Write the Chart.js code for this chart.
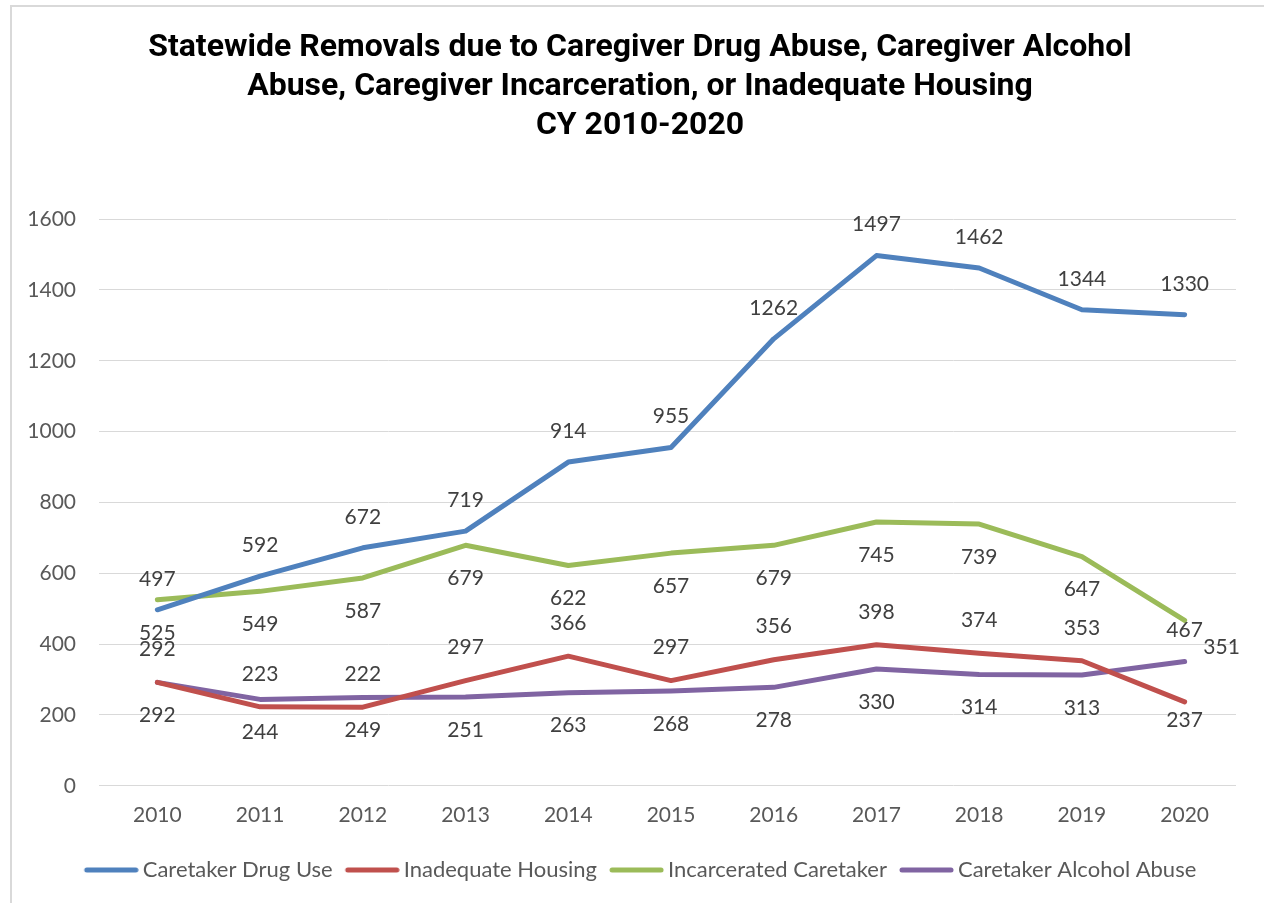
<!DOCTYPE html>
<html>
<head>
    <title>Statewide Removals CY 2010-2020</title>
    <script src="https://cdn.jsdelivr.net/npm/chart.js"></script>
    <style>
        html, body {
            margin: 0;
            padding: 0;
            background: #fff;
            overflow: hidden;
        }
        .frame {
            position: absolute;
            left: 10px;
            top: 5px;
            width: 1300px;
            height: 950px;
            border-left: 2px solid #d9d9d9;
            border-top: 2px solid #d9d9d9;
        }
        .chart-container {
            position: absolute;
            left: 0;
            top: 0;
            width: 1264px;
            height: 903px;
        }
    </style>
</head>
<body>
    <div class="frame"></div>
    <div class="chart-container">
        <canvas id="removalsChart"></canvas>
    </div>
    <script>
        // data
        const years = ['2010', '2011', '2012', '2013', '2014', '2015', '2016', '2017', '2018', '2019', '2020'];
        const drugUse = [497, 592, 672, 719, 914, 955, 1262, 1497, 1462, 1344, 1330];
        const inadequateHousing = [292, 223, 222, 297, 366, 297, 356, 398, 374, 353, 237];
        const incarcerated = [525, 549, 587, 679, 622, 657, 679, 745, 739, 647, 467];
        const alcoholAbuse = [292, 244, 249, 251, 263, 268, 278, 330, 314, 313, 351];
        const yTicks = [0, 200, 400, 600, 800, 1000, 1200, 1400, 1600];

        const labelFont = '21px Lato, "Open Sans", sans-serif';

        // small line swatch for the legend (line sits left, text close after it)
        function legendLine(color) {
            const c = document.createElement('canvas');
            c.width = 62;
            c.height = 8;
            const g = c.getContext('2d');
            g.strokeStyle = color;
            g.lineWidth = 5;
            g.lineCap = 'round';
            g.beginPath();
            g.moveTo(10, 4);
            g.lineTo(59, 4);
            g.stroke();
            return c;
        }

        // draws the value next to each point (no datalabels plugin available)
        const valueLabels = {
            id: 'valueLabels',
            afterDatasetsDraw(chart) {
                const ctx = chart.ctx;
                ctx.save();
                ctx.font = labelFont;
                ctx.fillStyle = '#404040';
                ctx.textAlign = 'center';
                ctx.textBaseline = 'middle';
                chart.data.datasets.forEach((ds, di) => {
                    const meta = chart.getDatasetMeta(di);
                    meta.data.forEach((pt, i) => {
                        let dx = 0;
                        let dy = ds.labelDy;
                        const last = ds.lastLabel;
                        if (i === ds.data.length - 1 && last) {
                            dx = last.dx;
                            dy = last.dy;
                        }
                        ctx.fillText(String(ds.data[i]), pt.x + dx, pt.y + dy);
                    });
                });
                ctx.restore();
            }
        };

        const ctx = document.getElementById('removalsChart').getContext('2d');
        new Chart(ctx, {
            type: 'line',
            data: {
                labels: years,
                datasets: [
                    {
                        label: 'Caretaker Drug Use',
                        data: drugUse,
                        borderColor: '#4f81bd',
                        backgroundColor: '#4f81bd',
                        pointStyle: legendLine('#4f81bd'),
                        labelDy: -31
                    },
                    {
                        label: 'Inadequate Housing',
                        data: inadequateHousing,
                        borderColor: '#c0504d',
                        backgroundColor: '#c0504d',
                        pointStyle: legendLine('#c0504d'),
                        labelDy: -33,
                        lastLabel: { dx: 0, dy: 18 }
                    },
                    {
                        label: 'Incarcerated Caretaker',
                        data: incarcerated,
                        borderColor: '#9bbb59',
                        backgroundColor: '#9bbb59',
                        pointStyle: legendLine('#9bbb59'),
                        labelDy: 33,
                        lastLabel: { dx: 0, dy: 10 }
                    },
                    {
                        label: 'Caretaker Alcohol Abuse',
                        data: alcoholAbuse,
                        borderColor: '#8064a2',
                        backgroundColor: '#8064a2',
                        pointStyle: legendLine('#8064a2'),
                        labelDy: 33,
                        lastLabel: { dx: 37, dy: -14 }
                    }
                ]
            },
            options: {
                responsive: true,
                maintainAspectRatio: false,
                animation: false,
                elements: {
                    line: { borderWidth: 5, tension: 0, borderCapStyle: 'round', borderJoinStyle: 'round' },
                    point: { radius: 0, hoverRadius: 0 }
                },
                layout: {
                    padding: { left: 27, right: 11, top: 22, bottom: 12 }
                },
                plugins: {
                    title: {
                        display: true,
                        text: [
                            'Statewide Removals due to Caregiver Drug Abuse, Caregiver Alcohol',
                            'Abuse, Caregiver Incarceration, or Inadequate Housing',
                            'CY 2010-2020'
                        ],
                        color: '#000',
                        font: { family: 'Roboto', size: 32, weight: 'bold', lineHeight: 1.22 },
                        padding: { top: 6, bottom: 74 }
                    },
                    legend: {
                        position: 'bottom',
                        labels: {
                            color: '#595959',
                            font: { family: 'Lato', size: 22 },
                            usePointStyle: true,
                            pointStyleWidth: 48,
                            boxHeight: 8,
                            padding: 12
                        }
                    },
                    tooltip: { enabled: false }
                },
                scales: {
                    x: {
                        offset: true,
                        grid: { display: false },
                        border: { display: false },
                        ticks: {
                            color: '#595959',
                            font: { family: 'Lato', size: 21 },
                            padding: 9
                        },
                        afterFit(scale) {
                            scale.height += 10;
                        }
                    },
                    y: {
                        min: 0,
                        max: 1600,
                        afterBuildTicks(scale) {
                            scale.ticks = yTicks.map(v => ({ value: v }));
                        },
                        afterFit(scale) {
                            scale.width = 79;
                        },
                        grid: { color: '#d9d9d9', lineWidth: 1, drawTicks: true, tickLength: 7, tickColor: '#d9d9d9' },
                        border: { display: false },
                        ticks: {
                            color: '#595959',
                            font: { family: 'Lato', size: 21 },
                            padding: 23,
                            callback: v => String(v)
                        }
                    },
                    // empty right-hand spacer so the plot ends where the original does
                    spacer: {
                        position: 'right',
                        display: true,
                        grid: { display: false },
                        border: { display: false },
                        ticks: { display: false },
                        afterFit(scale) {
                            scale.width = 17;
                        }
                    }
                }
            },
            plugins: [valueLabels]
        });
    </script>
</body>
</html>
